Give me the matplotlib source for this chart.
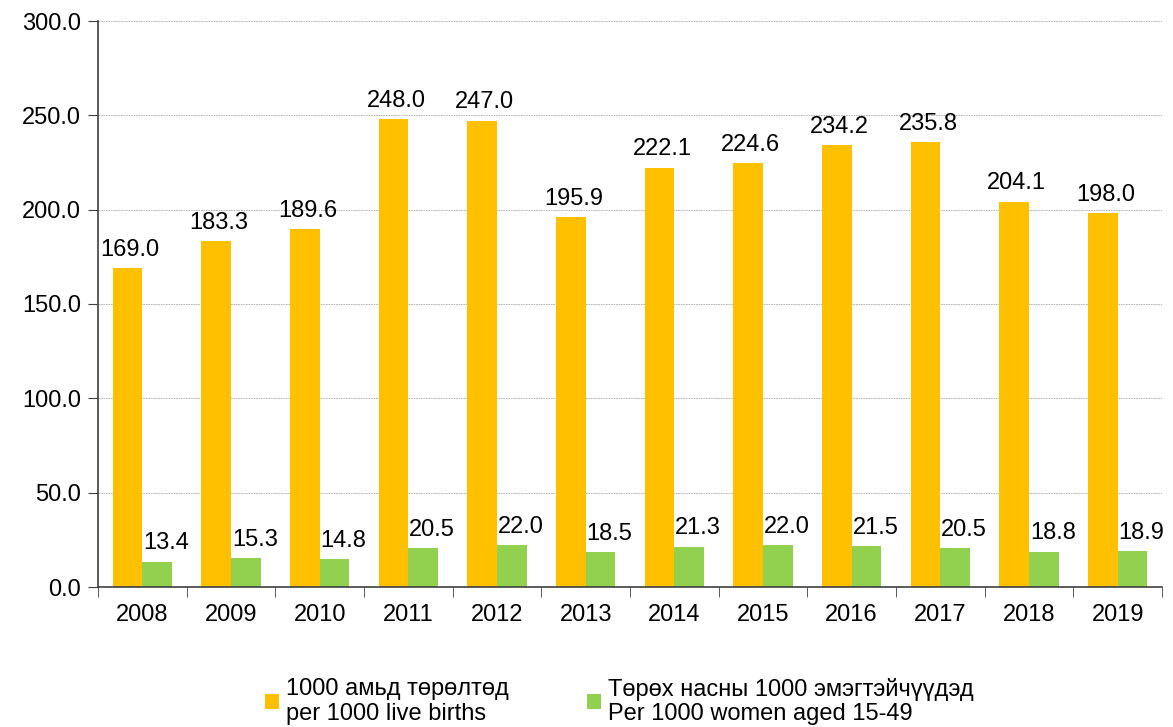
import numpy as np
import matplotlib
matplotlib.use("Agg")
import matplotlib.pyplot as plt
from matplotlib.ticker import FixedLocator

plt.rcParams['font.family'] = ['Liberation Sans', 'DejaVu Sans']

# data
years = ['2008', '2009', '2010', '2011', '2012', '2013',
         '2014', '2015', '2016', '2017', '2018', '2019']
per_births = [169.0, 183.3, 189.6, 248.0, 247.0, 195.9,
              222.1, 224.6, 234.2, 235.8, 204.1, 198.0]
per_women = [13.4, 15.3, 14.8, 20.5, 22.0, 18.5,
             21.3, 22.0, 21.5, 20.5, 18.8, 18.9]
label_births = '1000 амьд төрөлтөд\nper 1000 live births'
label_women = 'Төрөх насны 1000 эмэгтэйчүүдэд\nPer 1000 women aged 15-49'

orange = '#FFC000'
green = '#92D050'

fig = plt.figure(figsize=(11.73, 7.27), dpi=100)
ax = fig.add_axes([98 / 1173, 1 - 587 / 727, (1162 - 98) / 1173, (587 - 21) / 727])

x = np.arange(len(years))
w = 0.335
b1 = ax.bar(x - w / 2, per_births, w, color=orange, label=label_births, zorder=2)
b2 = ax.bar(x + w / 2, per_women, w, color=green, label=label_women, zorder=2)

for rect, v in zip(b1, per_births):
    ax.text(rect.get_x() + rect.get_width() / 2 + 0.03, v + 4, f'{v:.1f}',
            ha='center', va='bottom', fontsize=17)
for rect, v in zip(b2, per_women):
    ax.text(rect.get_x() + rect.get_width() / 2 + 0.1, v + 4, f'{v:.1f}',
            ha='center', va='bottom', fontsize=17)

ax.set_xlim(-0.5, len(years) - 0.5)
ax.set_ylim(0, 300)
ax.set_yticks(np.arange(0, 301, 50))
ax.set_yticklabels([f'{t:.1f}' for t in np.arange(0, 301, 50)], fontsize=17)
ax.set_xticks(x)
ax.set_xticklabels(years, fontsize=17)
ax.tick_params(axis='x', which='major', length=0, pad=12)
ax.xaxis.set_minor_locator(FixedLocator(np.arange(-0.5, len(years), 1)))
ax.tick_params(axis='x', which='minor', length=7, direction='out', color='#404040')
ax.tick_params(axis='y', length=7, direction='out', color='#404040', pad=5)

ax.grid(axis='y', linestyle=(0, (2, 1)), color='#aaaaaa', linewidth=0.6, zorder=0)
for s in ['top', 'right']:
    ax.spines[s].set_visible(False)
ax.spines['left'].set_color('#404040')
ax.spines['bottom'].set_color('#404040')
ax.spines['left'].set_linewidth(1.2)
ax.spines['bottom'].set_linewidth(1.2)

leg = fig.legend(loc='lower center', bbox_to_anchor=(0.528, -0.027), ncol=2, frameon=False,
                 fontsize=17, handlelength=0.6, handleheight=0.6, handletextpad=0.3,
                 columnspacing=3.3)
for t in leg.get_texts():
    t.set_linespacing(1.15)

fig.savefig('out.png', dpi=100)
